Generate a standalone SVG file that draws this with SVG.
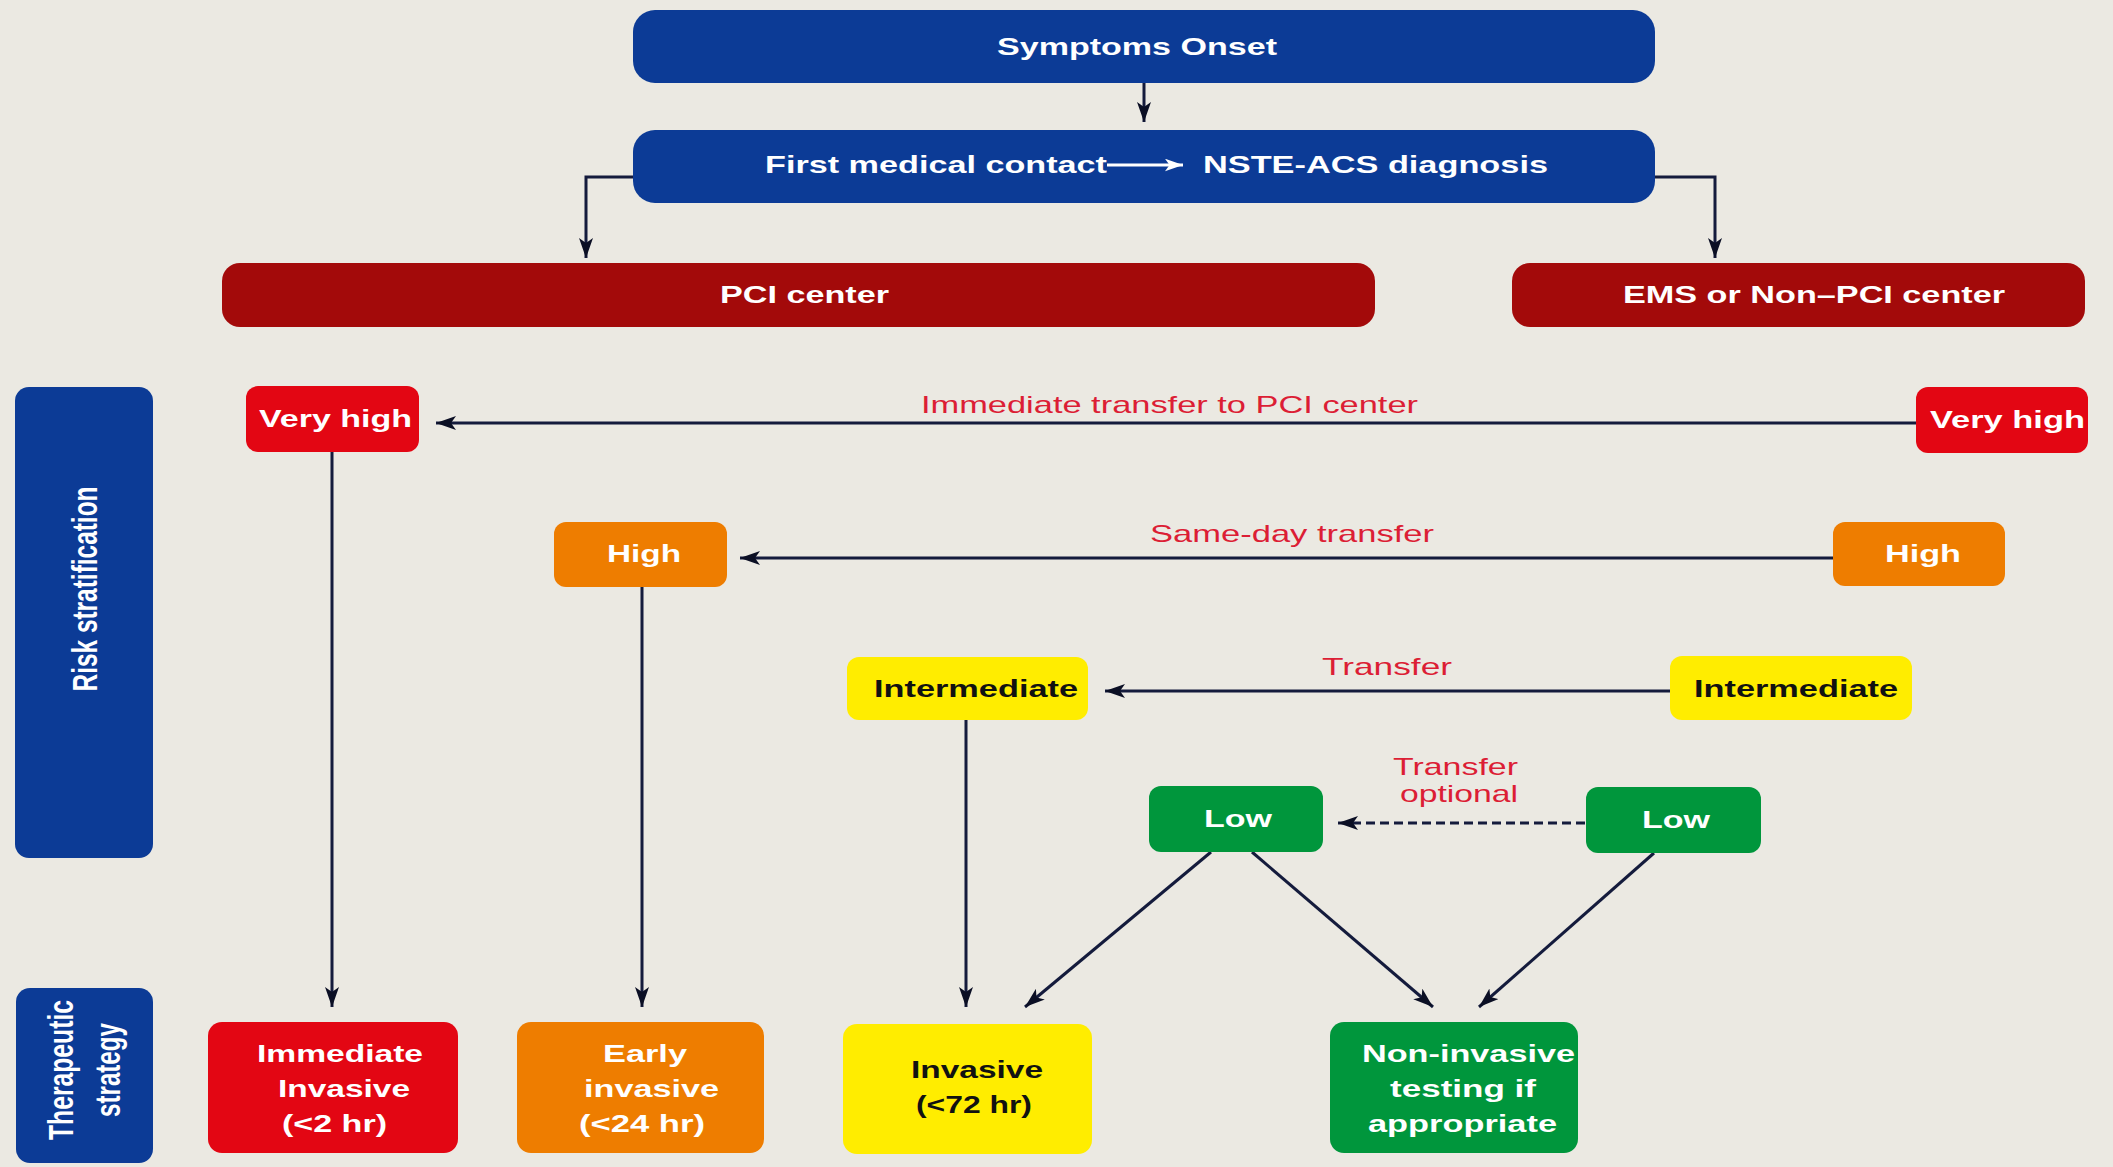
<svg xmlns="http://www.w3.org/2000/svg" width="2113" height="1167" viewBox="0 0 2113 1167">
<defs>
<style>
.blue{fill:#0c3b96}
.dred{fill:#a30a0a}
.red{fill:#e30613}
.orange{fill:#ee7d00}
.yellow{fill:#ffed00}
.green{fill:#00963c}
.t{font-family:"Liberation Sans",Arial,sans-serif;font-size:24px;font-weight:bold;fill:#ffffff}
.k{fill:#111111}
.lbl{font-family:"Liberation Sans",Arial,sans-serif;font-size:24px;fill:#dc1e35}
.conn{stroke:#141b3c;stroke-width:3;fill:none}
.dash{stroke-dasharray:9 5}
</style>
<marker id="ah" viewBox="0 0 20 14" refX="20" refY="7" markerWidth="20" markerHeight="14" markerUnits="userSpaceOnUse" orient="auto">
<path d="M0,0 L20,7 L0,14 L5,7 z" fill="#0b0f24"/>
</marker>
<marker id="ahw" viewBox="0 0 20 14" refX="20" refY="7" markerWidth="18" markerHeight="13" markerUnits="userSpaceOnUse" orient="auto">
<path d="M0,0 L20,7 L0,14 L5,7 z" fill="#ffffff"/>
</marker>
</defs>
<rect x="0" y="0" width="2113" height="1167" fill="#ebe9e2"/>

<g id="connectors">
<path class="conn" d="M1144,83 V122" marker-end="url(#ah)"/>
<path class="conn" d="M633,177 H586 V258" marker-end="url(#ah)"/>
<path class="conn" d="M1655,177 H1715 V258" marker-end="url(#ah)"/>
<path class="conn" d="M1916,423 H436" marker-end="url(#ah)"/>
<path class="conn" d="M1833,558 H740" marker-end="url(#ah)"/>
<path class="conn" d="M1670,691 H1105" marker-end="url(#ah)"/>
<path class="conn dash" d="M1585,823 H1338" marker-end="url(#ah)"/>
<path class="conn" d="M332,452 V1007" marker-end="url(#ah)"/>
<path class="conn" d="M642,587 V1007" marker-end="url(#ah)"/>
<path class="conn" d="M966,720 V1007" marker-end="url(#ah)"/>
<path class="conn" d="M1211,852 L1025,1007" marker-end="url(#ah)"/>
<path class="conn" d="M1252,852 L1433,1007" marker-end="url(#ah)"/>
<path class="conn" d="M1654,853 L1479,1007" marker-end="url(#ah)"/>
<text class="lbl" x="921" y="413" textLength="497" lengthAdjust="spacingAndGlyphs">Immediate transfer to PCI center</text>
<text class="lbl" x="1150" y="542" textLength="284" lengthAdjust="spacingAndGlyphs">Same-day transfer</text>
<text class="lbl" x="1322" y="675" textLength="130" lengthAdjust="spacingAndGlyphs">Transfer</text>
<text class="lbl" x="1393" y="775" textLength="125" lengthAdjust="spacingAndGlyphs">Transfer</text>
<text class="lbl" x="1400" y="802" textLength="118" lengthAdjust="spacingAndGlyphs">optional</text>
</g>

<g id="symptoms-onset">
<rect class="blue" x="633" y="10" width="1022" height="73" rx="22"/>
<text class="t" x="997" y="55" textLength="280" lengthAdjust="spacingAndGlyphs">Symptoms Onset</text>
</g>
<g id="first-contact">
<rect class="blue" x="633" y="130" width="1022" height="73" rx="22"/>
<text class="t" x="765" y="173" textLength="342" lengthAdjust="spacingAndGlyphs">First medical contact</text>
<path d="M1107,165 H1183" stroke="#ffffff" stroke-width="3" fill="none" marker-end="url(#ahw)"/>
<text class="t" x="1203" y="173" textLength="345" lengthAdjust="spacingAndGlyphs">NSTE-ACS diagnosis</text>
</g>
<g id="pci-center">
<rect class="dred" x="222" y="263" width="1153" height="64" rx="18"/>
<text class="t" x="720" y="303" textLength="169" lengthAdjust="spacingAndGlyphs">PCI center</text>
</g>
<g id="ems-center">
<rect class="dred" x="1512" y="263" width="573" height="64" rx="18"/>
<text class="t" x="1623" y="303" textLength="382" lengthAdjust="spacingAndGlyphs">EMS or Non–PCI center</text>
</g>

<g id="risk-stratification">
<rect class="blue" x="15" y="387" width="138" height="471" rx="14"/>
<text class="t" transform="translate(97,589) scale(1.43,1) rotate(-90)" x="-102.5" y="0" textLength="205" lengthAdjust="spacingAndGlyphs">Risk stratification</text>
</g>
<g id="therapeutic-strategy">
<rect class="blue" x="16" y="988" width="137" height="175" rx="14"/>
<text class="t" transform="translate(73,1070) scale(1.43,1) rotate(-90)" x="-70" y="0" textLength="140" lengthAdjust="spacingAndGlyphs">Therapeutic</text>
<text class="t" transform="translate(120,1070) scale(1.43,1) rotate(-90)" x="-47" y="0" textLength="94" lengthAdjust="spacingAndGlyphs">strategy</text>
</g>

<g id="very-high-pci">
<rect class="red" x="246" y="386" width="173" height="66" rx="12"/>
<text class="t" x="259" y="427" textLength="153" lengthAdjust="spacingAndGlyphs">Very high</text>
</g>
<g id="very-high-ems">
<rect class="red" x="1916" y="387" width="172" height="66" rx="12"/>
<text class="t" x="1930" y="428" textLength="155" lengthAdjust="spacingAndGlyphs">Very high</text>
</g>
<g id="high-pci">
<rect class="orange" x="554" y="522" width="173" height="65" rx="12"/>
<text class="t" x="607" y="562" textLength="74" lengthAdjust="spacingAndGlyphs">High</text>
</g>
<g id="high-ems">
<rect class="orange" x="1833" y="522" width="172" height="64" rx="12"/>
<text class="t" x="1885" y="562" textLength="76" lengthAdjust="spacingAndGlyphs">High</text>
</g>
<g id="intermediate-pci">
<rect class="yellow" x="847" y="657" width="241" height="63" rx="12"/>
<text class="t k" x="874" y="697" textLength="204" lengthAdjust="spacingAndGlyphs">Intermediate</text>
</g>
<g id="intermediate-ems">
<rect class="yellow" x="1670" y="656" width="242" height="64" rx="12"/>
<text class="t k" x="1694" y="697" textLength="204" lengthAdjust="spacingAndGlyphs">Intermediate</text>
</g>
<g id="low-pci">
<rect class="green" x="1149" y="786" width="174" height="66" rx="12"/>
<text class="t" x="1204" y="827" textLength="68" lengthAdjust="spacingAndGlyphs">Low</text>
</g>
<g id="low-ems">
<rect class="green" x="1586" y="787" width="175" height="66" rx="12"/>
<text class="t" x="1642" y="828" textLength="68" lengthAdjust="spacingAndGlyphs">Low</text>
</g>

<g id="immediate-invasive">
<rect class="red" x="208" y="1022" width="250" height="131" rx="14"/>
<text class="t" x="257" y="1062" textLength="166" lengthAdjust="spacingAndGlyphs">Immediate</text>
<text class="t" x="278" y="1097" textLength="132" lengthAdjust="spacingAndGlyphs">Invasive</text>
<text class="t" x="282" y="1132" textLength="105" lengthAdjust="spacingAndGlyphs">(&lt;2 hr)</text>
</g>
<g id="early-invasive">
<rect class="orange" x="517" y="1022" width="247" height="131" rx="14"/>
<text class="t" x="603" y="1062" textLength="84" lengthAdjust="spacingAndGlyphs">Early</text>
<text class="t" x="584" y="1097" textLength="135" lengthAdjust="spacingAndGlyphs">invasive</text>
<text class="t" x="579" y="1132" textLength="126" lengthAdjust="spacingAndGlyphs">(&lt;24 hr)</text>
</g>
<g id="invasive">
<rect class="yellow" x="843" y="1024" width="249" height="130" rx="14"/>
<text class="t k" x="911" y="1078" textLength="132" lengthAdjust="spacingAndGlyphs">Invasive</text>
<text class="t k" x="916" y="1113" textLength="116" lengthAdjust="spacingAndGlyphs">(&lt;72 hr)</text>
</g>
<g id="non-invasive">
<rect class="green" x="1330" y="1022" width="248" height="131" rx="14"/>
<text class="t" x="1362" y="1062" textLength="213" lengthAdjust="spacingAndGlyphs">Non-invasive</text>
<text class="t" x="1390" y="1097" textLength="146" lengthAdjust="spacingAndGlyphs">testing if</text>
<text class="t" x="1368" y="1132" textLength="189" lengthAdjust="spacingAndGlyphs">appropriate</text>
</g>
</svg>
